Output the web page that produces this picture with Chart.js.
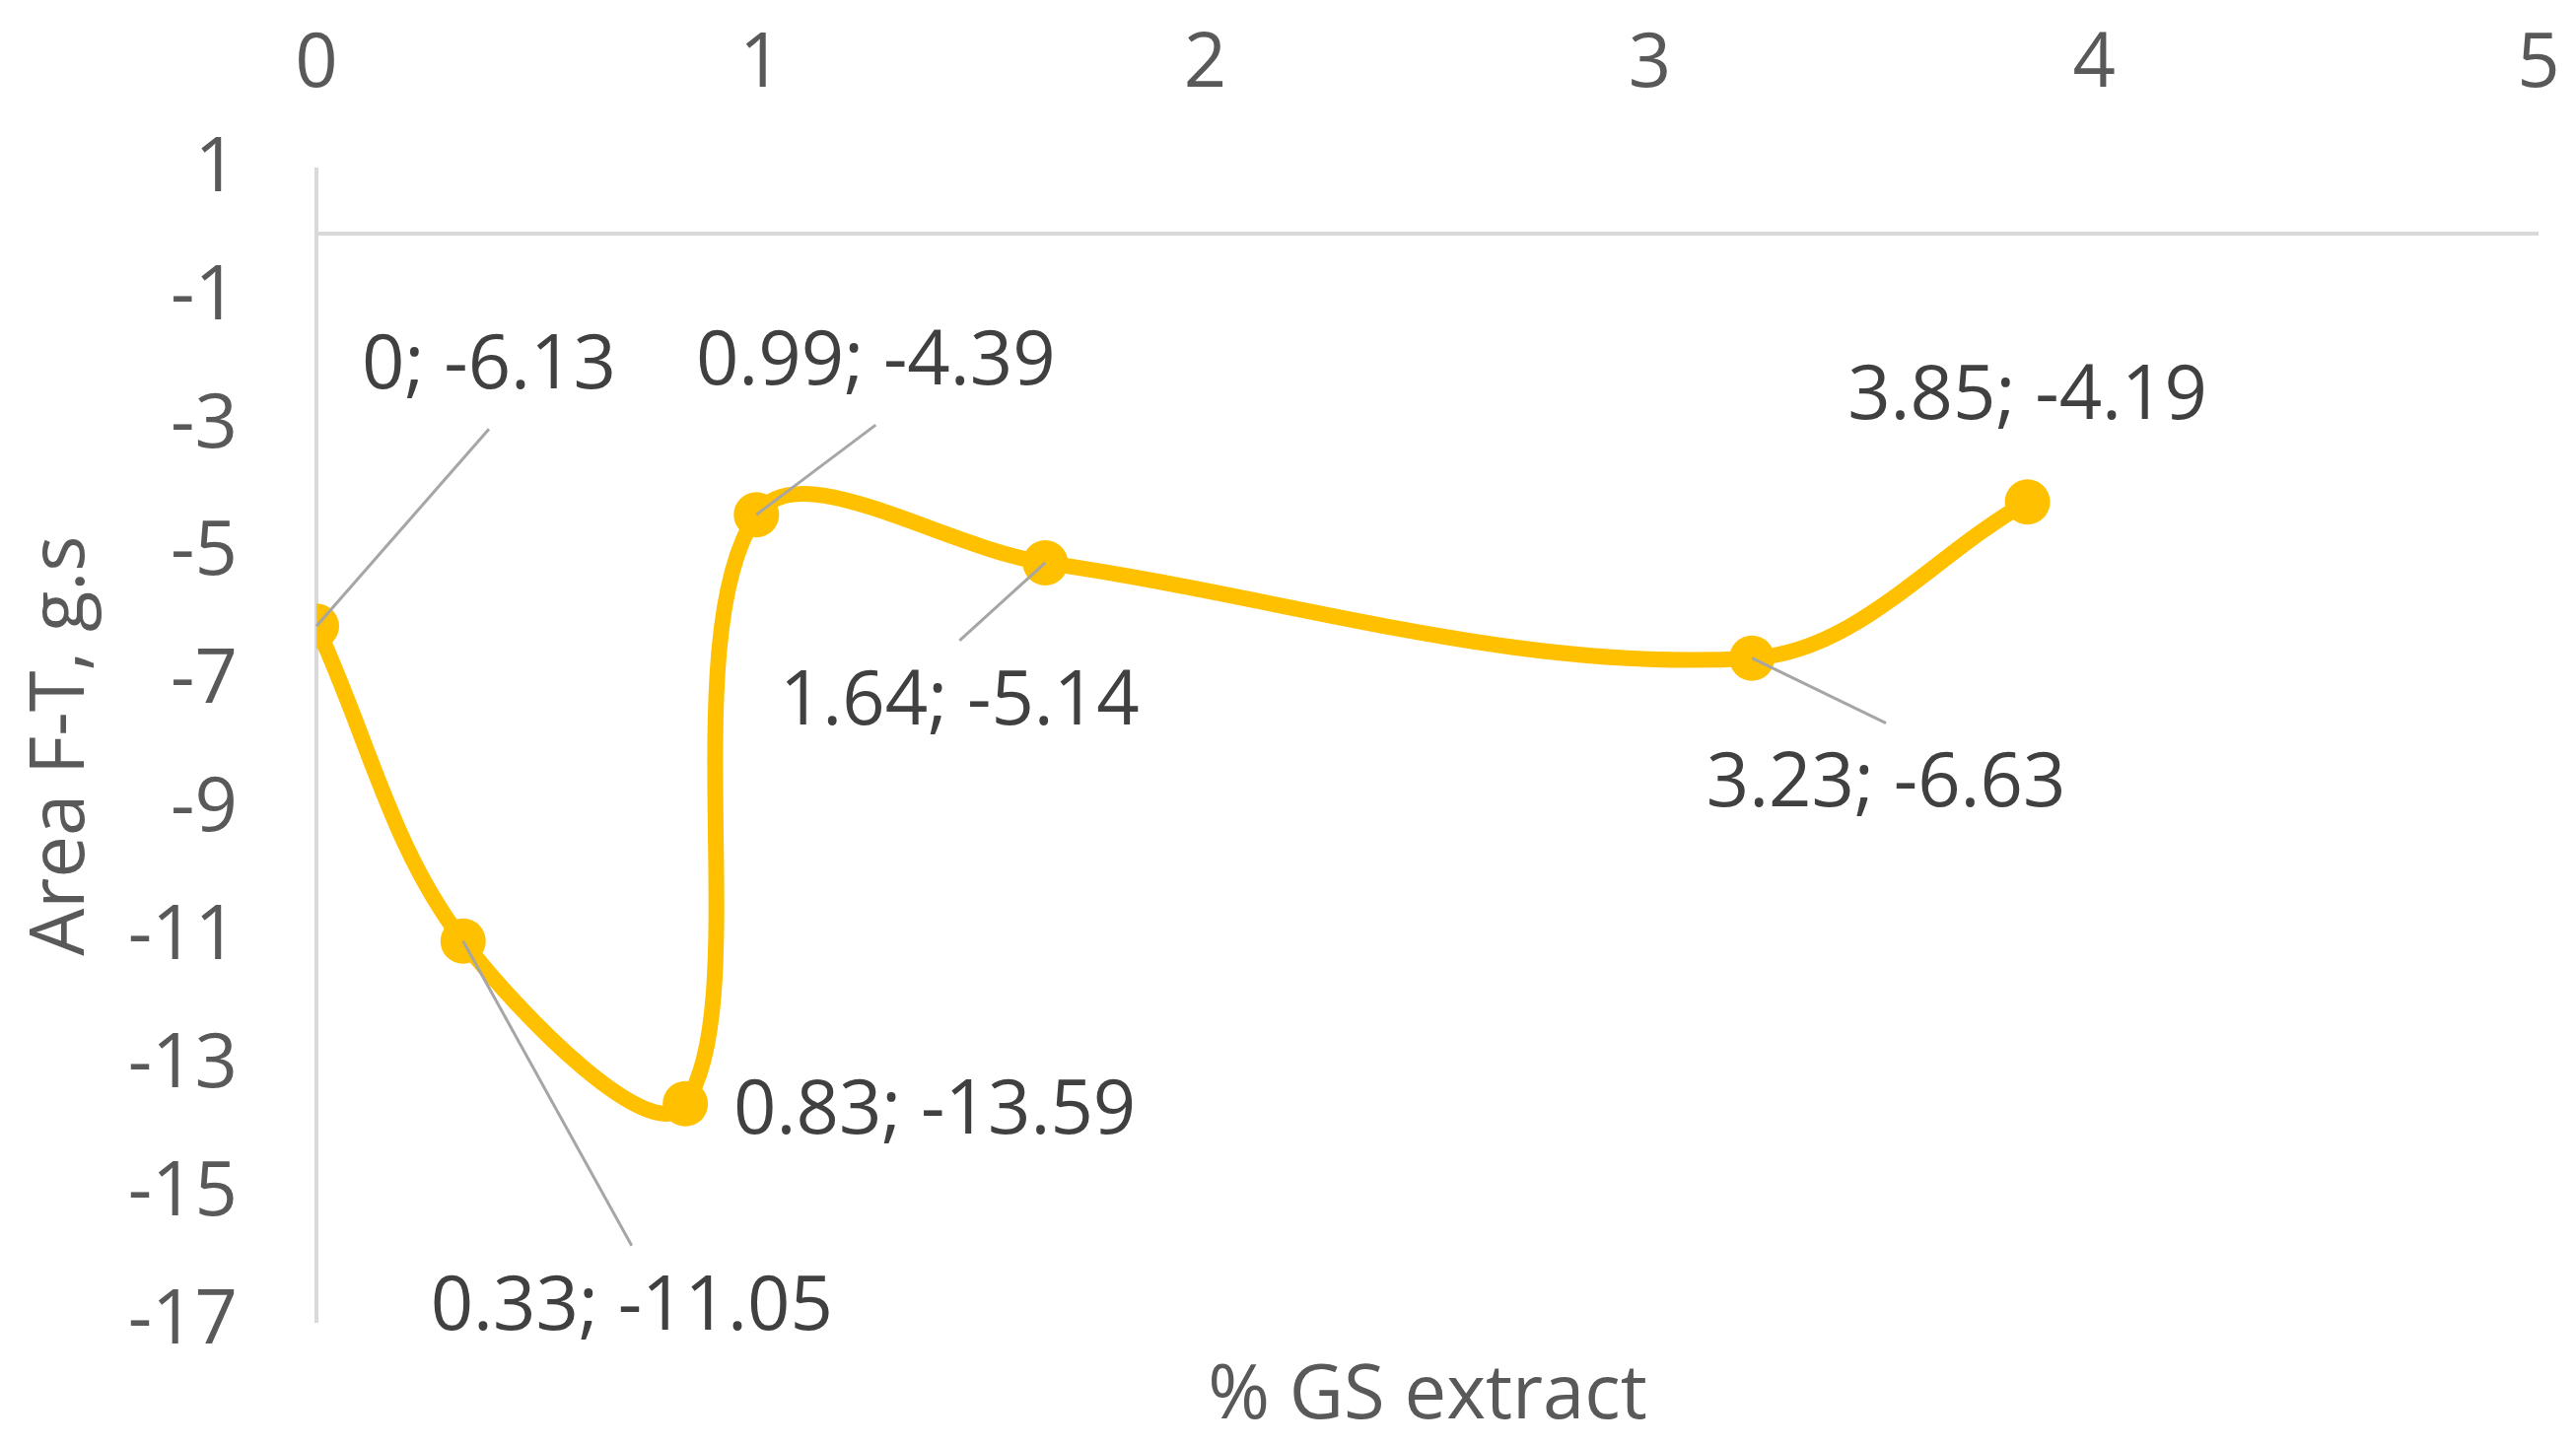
<!DOCTYPE html>
<html>
<head>
<meta charset="utf-8">
<title>Area F-T vs % GS extract</title>
<script src="https://cdn.jsdelivr.net/npm/chart.js@4.4.1/dist/chart.umd.min.js"></script>
<style>
  html, body { margin: 0; padding: 0; background: #ffffff; }
  canvas { display: block; }
</style>
</head>
<body>
<canvas id="chart" width="2613" height="1467"></canvas>
<script>
// GS extract concentration (%) and measured area F-T (g.s)
const gsExtract = [0, 0.33, 0.83, 0.99, 1.64, 3.23, 3.85];
const areaFT = [-6.13, -11.05, -13.59, -4.39, -5.14, -6.63, -4.19];

const xTickValues = [0, 1, 2, 3, 4, 5];
const yTickValues = [-17, -15, -13, -11, -9, -7, -5, -3, -1, 1];

// where each data label sits relative to its point (px)
const labelOffsets = [[175, -263], [171, 372], [253, 8], [121, -154], [-87, 142], [136, 129], [0, -106]];

const FONT = "'Open Sans', 'Liberation Sans', sans-serif";
const TEXT_GREY = '#595959';
const LABEL_GREY = '#404040';
const AXIS_GREY = '#D9D9D9';
const LINE_GOLD = '#FFC000';

const points = gsExtract.map((x, i) => ({x: x, y: areaFT[i]}));

// horizontal axis line crosses at y = 0
const zeroLine = {
  id: 'zeroLine',
  beforeDatasetsDraw(chart) {
    const {ctx, chartArea, scales} = chart;
    const y0 = scales.y.getPixelForValue(0);
    ctx.save();
    ctx.strokeStyle = AXIS_GREY;
    ctx.lineWidth = 4;
    ctx.beginPath();
    ctx.moveTo(chartArea.left, y0);
    ctx.lineTo(chartArea.right, y0);
    ctx.stroke();
    ctx.restore();
  }
};

// "x; y" labels with leader lines, like the Excel data labels
const pointLabels = {
  id: 'pointLabels',
  afterDatasetsDraw(chart) {
    const ctx = chart.ctx;
    const meta = chart.getDatasetMeta(0);
    ctx.save();
    ctx.font = '76px ' + FONT;
    ctx.textAlign = 'center';
    ctx.textBaseline = 'middle';
    meta.data.forEach((pt, i) => {
      const [dx, dy] = labelOffsets[i];
      const cx = pt.x + dx, cy = pt.y + dy;
      const edge = 63;
      if (Math.abs(dy) - edge > 60) {
        ctx.strokeStyle = '#A6A6A6';
        ctx.lineWidth = 3;
        ctx.beginPath();
        ctx.moveTo(pt.x, pt.y);
        ctx.lineTo(cx, cy - Math.sign(dy) * edge);
        ctx.stroke();
      }
      ctx.fillStyle = LABEL_GREY;
      ctx.fillText(gsExtract[i] + '; ' + areaFT[i], cx, cy);
    });
    ctx.restore();
  }
};

new Chart(document.getElementById('chart'), {
  type: 'scatter',
  data: {
    datasets: [{
      data: points,
      showLine: true,
      borderColor: LINE_GOLD,
      borderWidth: 16,
      tension: 0.35,
      pointRadius: 23,
      pointBackgroundColor: LINE_GOLD,
      pointBorderWidth: 0,
      xAxisID: 'x',
      yAxisID: 'y'
    }]
  },
  plugins: [zeroLine, pointLabels],
  options: {
    responsive: false,
    devicePixelRatio: 1,
    animation: false,
    events: [],
    layout: {padding: {left: 0, right: 38, top: 0, bottom: 0}},
    plugins: {
      legend: {display: false},
      tooltip: {enabled: false}
    },
    scales: {
      x: {
        type: 'linear',
        position: 'top',
        min: 0,
        max: 5,
        afterBuildTicks: s => { s.ticks = xTickValues.map(v => ({value: v})); },
        afterFit: s => { s.height = 172; s.paddingLeft = 0; s.paddingRight = 0; },
        grid: {display: false, drawTicks: false},
        border: {display: false},
        ticks: {color: TEXT_GREY, font: {family: FONT, size: 76}, padding: 60, maxRotation: 0}
      },
      xb: {
        type: 'linear',
        position: 'bottom',
        min: 0,
        max: 5,
        afterFit: s => { s.height = 122; s.paddingLeft = 0; s.paddingRight = 0; },
        grid: {display: false, drawTicks: false},
        border: {display: false},
        ticks: {display: false},
        title: {display: true, text: '% GS extract', color: TEXT_GREY, font: {family: FONT, size: 76}, padding: {top: 0, bottom: 0}}
      },
      y: {
        type: 'linear',
        position: 'left',
        min: -17,
        max: 1,
        afterBuildTicks: s => { s.ticks = yTickValues.map(v => ({value: v})); },
        afterFit: s => { s.width = 321; },
        grid: {display: false, drawTicks: false},
        border: {display: true, color: AXIS_GREY, width: 4},
        ticks: {color: TEXT_GREY, font: {family: FONT, size: 76}, padding: 80},
        title: {display: true, text: 'Area F-T, g.s', color: TEXT_GREY, font: {family: FONT, size: 76}, padding: {top: 18, bottom: 0}}
      }
    }
  }
});
</script>
</body>
</html>
